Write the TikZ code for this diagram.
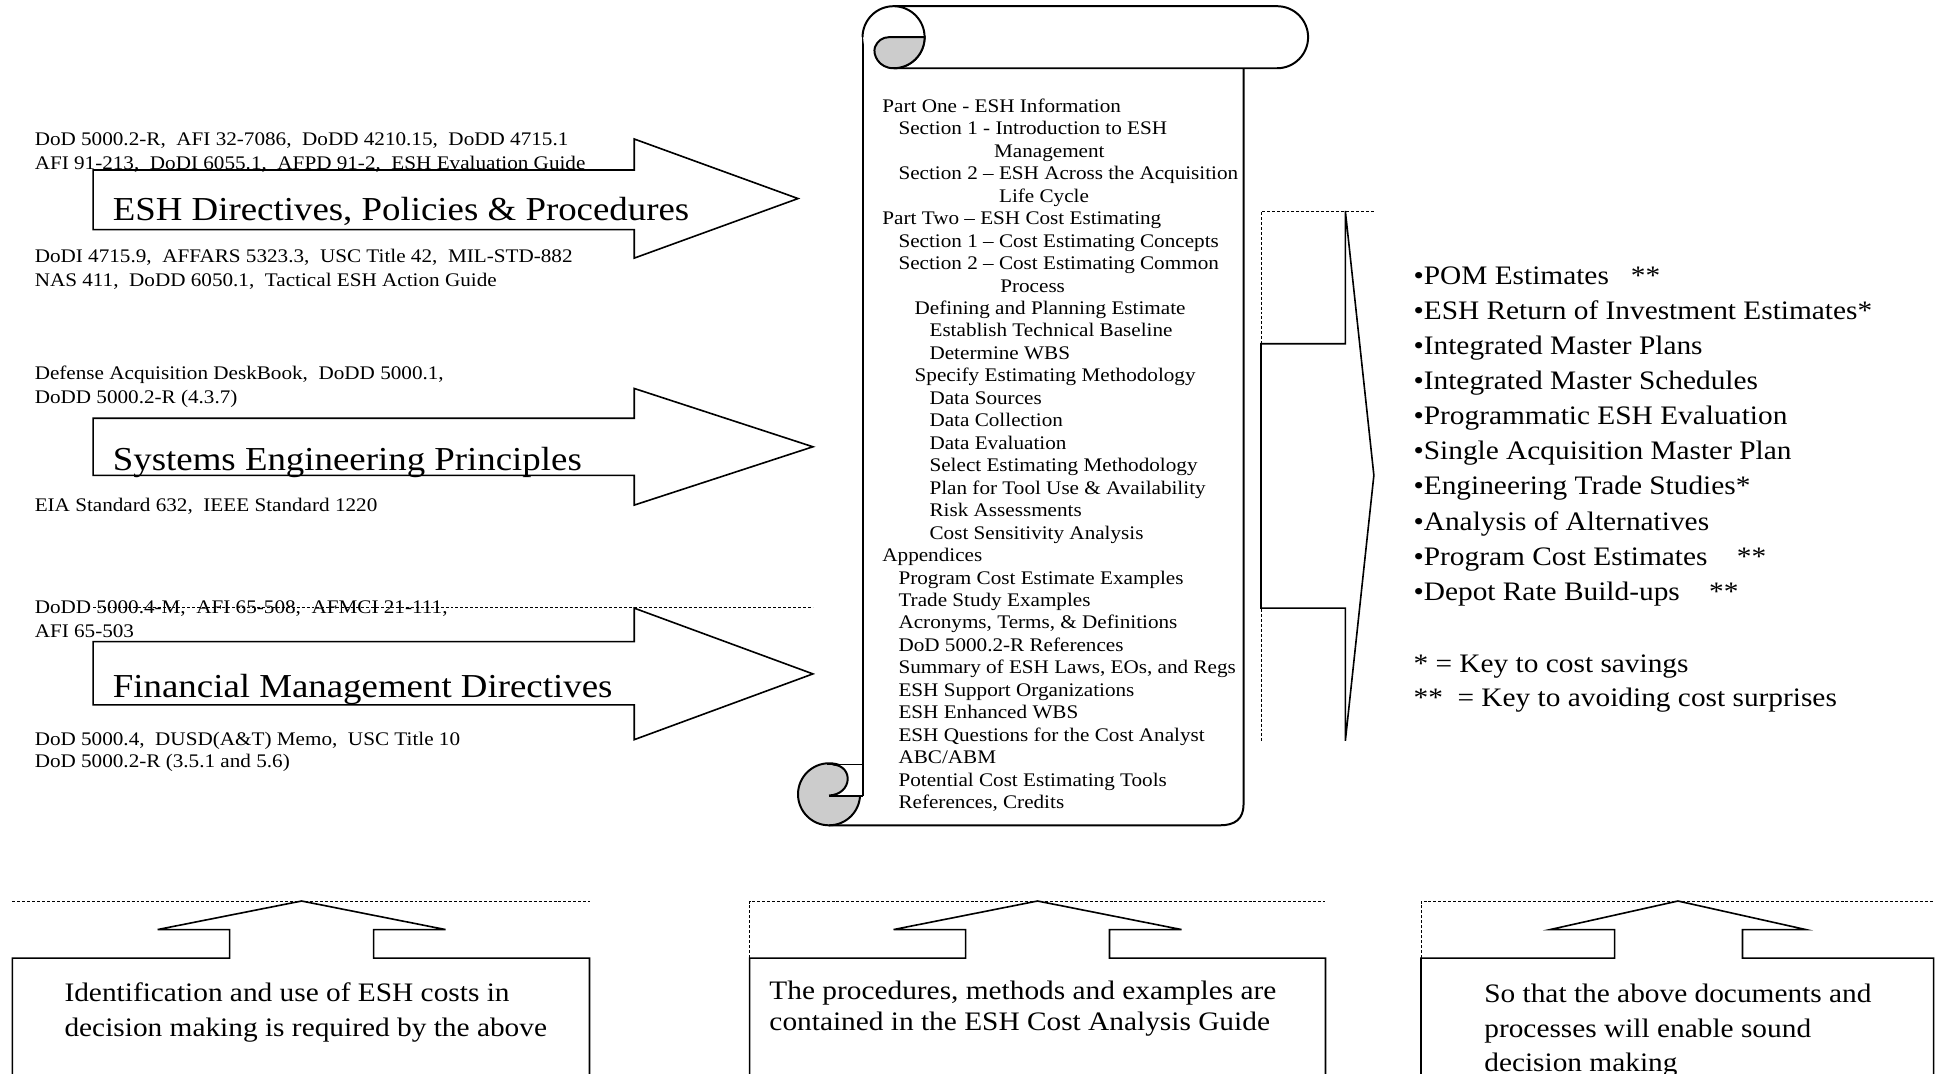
\documentclass[tikz,border=0pt]{standalone}
\usepackage{fontspec}
\setmainfont{Liberation Serif}[FakeStretch=1.1]
\newcommand\fsmall{\fontsize{7.75pt}{9.05pt}\selectfont}
\newcommand\fmid{\fontsize{10.75pt}{14pt}\selectfont}
\newcommand\fbig{\fontsize{13.5pt}{16pt}\selectfont}
\begin{document}
\begin{tikzpicture}[x=0.5pt,y=-0.5pt,
  outl/.style={draw=black,line width=0.65pt,fill=white,line join=miter},
  scrl/.style={draw=black,line width=0.8pt},
  curl/.style={draw=black,line width=0.8pt,fill=black!20},
  dotl/.style={draw=black,line width=0.3pt,dash pattern=on 1.2pt off 0.8pt},
  txt/.style={anchor=base west,inner sep=0pt,outer sep=0pt},
  reftxt/.style={txt,font=\fsmall},
  toctxt/.style={txt,font=\fsmall},
  bigtxt/.style={txt,font=\fbig},
  midtxt/.style={txt,font=\fmid}]
\useasboundingbox (0,0) rectangle (1568,865);

% ---------- left block arrows ----------
\draw[outl] (75,137) -- (511,137) -- (511,112) -- (643,160) -- (511,208) -- (511,185) -- (75,185) -- cycle;
\node[bigtxt] (lab1) at (91,178) {ESH Directives, Policies \& Procedures};
\node[reftxt] (r1a) at (28,117.5) {DoD 5000.2-R,~ AFI 32-7086,~ DoDD 4210.15,~ DoDD 4715.1};
\node[reftxt] (r1b) at (28,136.5) {AFI 91-213,~ DoDI 6055.1,~ AFPD 91-2,~ ESH Evaluation Guide};
\node[reftxt] (r1c) at (28,211.5) {DoDI 4715.9,~ AFFARS 5323.3,~ USC Title 42,~ MIL-STD-882};
\node[reftxt] (r1d) at (28,230.5) {NAS 411,~ DoDD 6050.1,~ Tactical ESH Action Guide};

\draw[outl] (75,337) -- (511,337) -- (511,313) -- (655,360) -- (511,407) -- (511,383) -- (75,383) -- cycle;
\node[bigtxt] (lab2) at (91,379) {Systems Engineering Principles};
\node[reftxt] (r2a) at (28,305.5) {Defense Acquisition DeskBook,~ DoDD 5000.1,};
\node[reftxt] (r2b) at (28,325.5) {DoDD 5000.2-R (4.3.7)};
\node[reftxt] (r2c) at (28,412.5) {EIA Standard 632,~ IEEE Standard 1220};

\draw[outl] (75,517) -- (511,517) -- (511,490) -- (655,543) -- (511,596) -- (511,568) -- (75,568) -- cycle;
\node[bigtxt] (lab3) at (91,562) {Financial Management Directives};
\node[reftxt] (r3a) at (28,494.5) {DoDD 5000.4-M,~ AFI 65-508,~ AFMCI 21-111,};
\node[reftxt] (r3b) at (28,513.5) {AFI 65-503};
\node[reftxt] (r3c) at (28,600.5) {DoD 5000.4,~ DUSD(A\&T) Memo,~ USC Title 10};
\node[reftxt] (r3d) at (28,618.5) {DoD 5000.2-R (3.5.1 and 5.6)};
\draw[dotl] (75,489) -- (655,489);

% ---------- scroll ----------
\fill[white] (695,30) rectangle (1002,665);
% bottom curl
\draw[curl] (668,640) circle[radius=25];
\fill[white] (671,616) -- (695,616) -- (695,641) -- (668,641) .. controls (687,640) and (688,617) .. (671,616) -- cycle;
\draw[scrl] (666,616) -- (695,616);
\draw[scrl] (668,641) -- (695,641);
\draw[scrl] (668,641) .. controls (687,640) and (688,617) .. (671,616);
% body edges
\draw[scrl] (695,30) -- (695,641);
\draw[scrl] (1002,55) -- (1002,648) .. controls (1002,660) and (995,665) .. (983,665) -- (668,665);
% top roll
\draw[scrl,fill=white] (720,5) -- (1029,5) arc[start angle=-90,end angle=90,radius=25] -- (720,55);
\fill[white] (720,30) circle[radius=24.5];
\draw[scrl] (695,30) arc[start angle=180,end angle=450,radius=25];
\draw[curl] (716,30) -- (745,30) arc[start angle=0,end angle=90,radius=25]
   .. controls (708,55) and (703,44) .. (705,38) .. controls (707,33) and (711,30) .. (716,30) -- cycle;

\foreach \xx/\txt [count=\k] in {
 711/{Part One - ESH Information},
 724/{Section 1 - Introduction to ESH},
 801/{Management},
 724/{Section 2 – ESH Across the Acquisition},
 805/{Life Cycle},
 711/{Part Two – ESH Cost Estimating},
 724/{Section 1 – Cost Estimating Concepts},
 724/{Section 2 – Cost Estimating Common},
 806/{Process},
 737/{Defining and Planning Estimate},
 749/{Establish Technical Baseline},
 749/{Determine WBS},
 737/{Specify Estimating Methodology},
 749/{Data Sources},
 749/{Data Collection},
 749/{Data Evaluation},
 749/{Select Estimating Methodology},
 749/{Plan for Tool Use \& Availability},
 749/{Risk Assessments},
 749/{Cost Sensitivity Analysis},
 711/{Appendices},
 724/{Program Cost Estimate Examples},
 724/{Trade Study Examples},
 724/{Acronyms, Terms, \& Definitions},
 724/{DoD 5000.2-R References},
 724/{Summary of ESH Laws, EOs, and Regs},
 724/{ESH Support Organizations},
 724/{ESH Enhanced WBS},
 724/{ESH Questions for the Cost Analyst},
 724/{ABC/ABM},
 724/{Potential Cost Estimating Tools},
 724/{References, Credits}}
 \node[toctxt] (toc\k) at (\xx,{90.5+(\k-1)*18.1}) {\txt};

% ---------- right bracket arrow ----------
\draw[dotl] (1107,170) -- (1016,170) -- (1016,597);
\draw[outl] (1084,170) -- (1107,383) -- (1084,597) -- (1084,490) -- (1016,490) -- (1016,277) -- (1084,277) -- cycle;

\foreach \txt [count=\k] in {
 {•POM Estimates\ \ \ **},
 {•ESH Return of Investment Estimates*},
 {•Integrated Master Plans},
 {•Integrated Master Schedules},
 {•Programmatic ESH Evaluation},
 {•Single Acquisition Master Plan},
 {•Engineering Trade Studies*},
 {•Analysis of Alternatives},
 {•Program Cost Estimates\ \ \ \ **},
 {•Depot Rate Build-ups\ \ \ \ **}}
 \node[midtxt] (out\k) at (1139,{229+(\k-1)*28.3}) {\txt};
\node[midtxt] (key1) at (1139,542) {* = Key to cost savings};
\node[midtxt] (key2) at (1139,569) {**\ \ = Key to avoiding cost surprises};

% ---------- bottom boxes ----------
\draw[dotl] (10,726) -- (475,726);
\draw[outl] (10,868) -- (10,772) -- (185,772) -- (185,749) -- (127,749) -- (243,726) -- (359,749) -- (301,749) -- (301,772) -- (475,772) -- (475,868);
\node[midtxt] (b1a) at (52,807) {Identification and use of ESH costs in};
\node[midtxt] (b1b) at (52,835) {decision making is required by the above};

\draw[dotl] (604,772) -- (604,726) -- (1068,726);
\draw[outl] (604,868) -- (604,772) -- (778,772) -- (778,749) -- (720,749) -- (836,726) -- (952,749) -- (894,749) -- (894,772) -- (1068,772) -- (1068,868);
\node[midtxt] (b2a) at (620,805) {The procedures, methods and examples are};
\node[midtxt] (b2b) at (620,830) {contained in the ESH Cost Analysis Guide};

\draw[dotl] (1145,772) -- (1145,726) -- (1558,726);
\draw[outl] (1145,868) -- (1145,772) -- (1301,772) -- (1301,749) -- (1249,749) -- (1352,726) -- (1455,749) -- (1404,749) -- (1404,772) -- (1558,772) -- (1558,868);
\node[midtxt] (b3a) at (1196,808) {So that the above documents and};
\node[midtxt] (b3b) at (1196,836) {processes will enable sound};
\node[midtxt] (b3c) at (1196,863) {decision making};
\end{tikzpicture}
\end{document}
